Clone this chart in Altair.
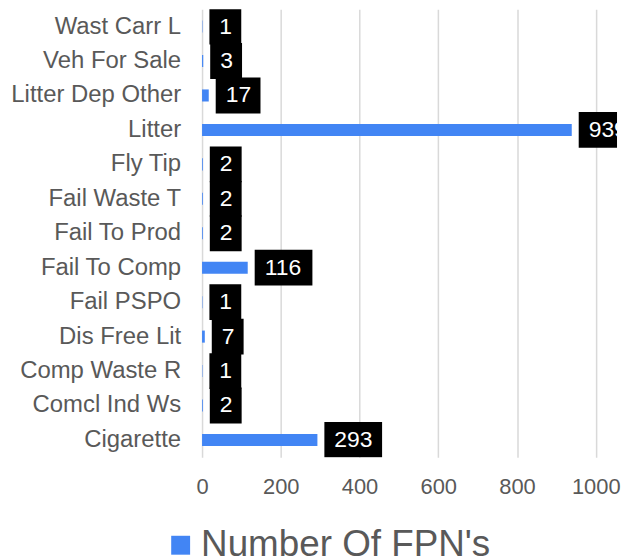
import altair as alt
import pandas as pd

categories = ["Wast Carr L", "Veh For Sale", "Litter Dep Other", "Litter", "Fly Tip",
              "Fail Waste T", "Fail To Prod", "Fail To Comp", "Fail PSPO",
              "Dis Free Lit", "Comp Waste R", "Comcl Ind Ws", "Cigarette"]
values = [1, 3, 17, 939, 2, 2, 2, 116, 1, 7, 1, 2, 293]
series_name = "Number Of FPN's"
x_ticks = [0, 200, 400, 600, 800, 1000]
x_max = 1054

df = pd.DataFrame({"category": categories, "value": values})
df["series"] = series_name
df["digits"] = df["value"].astype(str).str.len()

FONT = "Liberation Sans"
GREY = "#595959"
BLUE = "#4285f4"

y_enc = alt.Y("category:N", sort=categories, title=None,
              scale=alt.Scale(paddingInner=0.65, paddingOuter=0.325),
              axis=alt.Axis(labelFontSize=24, labelColor=GREY, labelFont=FONT,
                            ticks=False, tickSize=0, domain=False, labelPadding=21.5,
                            labelLimit=300))
x_enc = alt.X("value:Q", title=None,
              scale=alt.Scale(domain=[0, x_max], nice=False),
              axis=alt.Axis(values=x_ticks, format="d", grid=True, gridColor="#d9d9d9",
                            gridWidth=1.5, domain=False, ticks=False, tickSize=0,
                            labelFontSize=22, labelColor=GREY, labelFont=FONT,
                            labelPadding=19.5, labelFlush=False))

bars = alt.Chart(df).mark_bar(color=BLUE).encode(
    y=y_enc,
    x=x_enc,
    color=alt.Color("series:N", scale=alt.Scale(range=[BLUE]),
                    legend=alt.Legend(title=None, orient="none", legendX=-40, legendY=520,
                                      symbolType="square", symbolSize=361,
                                      symbolStrokeWidth=0, labelLimit=500,
                                      labelFontSize=37, labelColor=GREY, labelFont=FONT,
                                      labelOffset=2)),
)

box_widths = {1: 32, 2: 45, 3: 58}
boxes = []
for d, w in box_widths.items():
    boxes.append(
        alt.Chart(df).transform_filter(alt.datum.digits == d)
        .mark_bar(color="black", size=36, xOffset=7, x2Offset=7 + w, clip=True)
        .encode(y=alt.Y("category:N", sort=categories),
                x=alt.X("value:Q"), x2="value:Q")
    )

texts = alt.Chart(df).mark_text(color="white", fontSize=23, font=FONT, align="left",
                                baseline="middle", dx=17, clip=True).encode(
    y=alt.Y("category:N", sort=categories),
    x=alt.X("value:Q"),
    text=alt.Text("value:Q"),
)

chart = alt.layer(bars, *boxes, texts).properties(
    width=417, height=450,
    padding={"left": 2, "top": 0, "right": 0, "bottom": 0},
).configure_view(stroke=None)

chart.save("out.html", embed_options={"renderer": "svg", "actions": False})
